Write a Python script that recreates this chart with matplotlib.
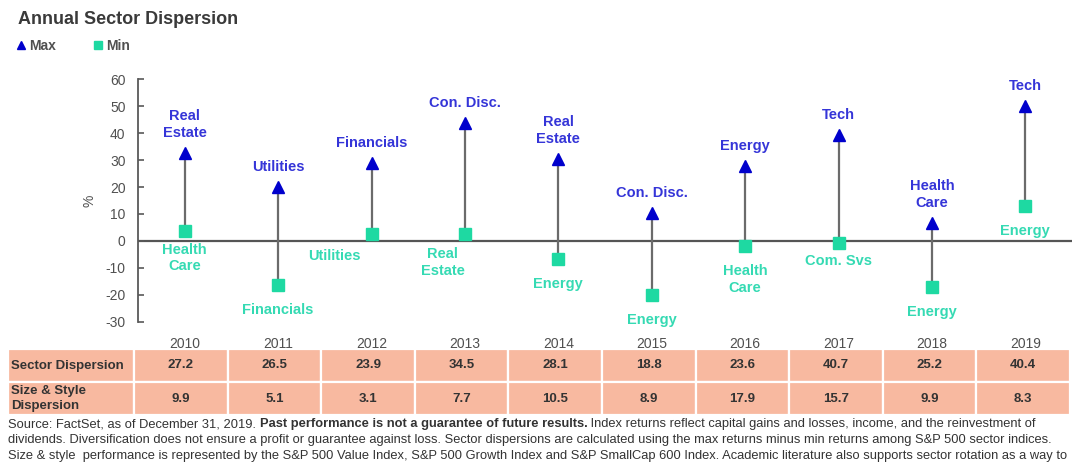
import numpy as np
import matplotlib
matplotlib.use('Agg')
import matplotlib.pyplot as plt
from matplotlib.patches import Rectangle
from matplotlib.lines import Line2D

plt.rcParams['font.family'] = ['Liberation Sans', 'DejaVu Sans']
plt.rcParams['axes.unicode_minus'] = False

years = ['2010', '2011', '2012', '2013', '2014', '2015', '2016', '2017', '2018', '2019']
max_vals = [32.5, 20.1, 28.9, 43.8, 30.4, 10.3, 27.9, 39.3, 6.6, 50.2]
min_vals = [3.5, -16.5, 2.5, 2.5, -6.8, -20.2, -1.9, -0.6, -17.1, 13.0]
max_sectors = ['Real\nEstate', 'Utilities', 'Financials', 'Con. Disc.', 'Real\nEstate',
               'Con. Disc.', 'Energy', 'Tech', 'Health\nCare', 'Tech']
min_sectors = ['Health\nCare', 'Financials', 'Utilities', 'Real\nEstate', 'Energy',
               'Energy', 'Health\nCare', 'Com. Svs', 'Energy', 'Energy']
sector_disp = [27.2, 26.5, 23.9, 34.5, 28.1, 18.8, 23.6, 40.7, 25.2, 40.4]
style_disp = [9.9, 5.1, 3.1, 7.7, 10.5, 8.9, 17.9, 15.7, 9.9, 8.3]
row_labels = ['Sector Dispersion', 'Size & Style\nDispersion']

# label nudges (points) for min labels that sit off the default spot
min_dx = {2: -27, 3: -16}
min_dy = {0: -8, 2: -11, 3: -9.5, 7: -8}

W, H = 1078, 465
BLUE = '#0000cc'
BLUE_TXT = '#3535d8'
GREEN = '#1ed9a2'
GREEN_TXT = '#35dab3'
GRAY = '#595959'
SALMON = '#f8b9a0'

fig = plt.figure(figsize=(W / 100, H / 100), dpi=100)
fig.patch.set_facecolor('white')

ax = fig.add_axes([138 / W, 1 - 321.7 / H, 934 / W, 242.4 / H])
x = np.arange(len(years))
ax.set_xlim(-0.5, len(years) - 0.5)
ax.set_ylim(-30, 60)
ax.set_yticks(range(-30, 61, 10))
for s in ['top', 'right', 'bottom']:
    ax.spines[s].set_visible(False)
ax.spines['left'].set_color(GRAY)
ax.spines['left'].set_linewidth(1.3)
ax.tick_params(axis='y', direction='in', length=4, width=1.2, color=GRAY,
               labelcolor='#505050', labelsize=10, pad=9)
ax.set_xticks(x)
ax.set_xticklabels(years)
ax.tick_params(axis='x', length=0, labelcolor='#505050', labelsize=10, pad=11)
ax.set_ylabel('%', color='#505050', fontsize=10, labelpad=6)
ax.axhline(0, color='#555555', lw=1.6, zorder=1)

ax.vlines(x, min_vals, max_vals, color='#6b6b6b', lw=1.6, zorder=2)
ax.plot(x, max_vals, '^', color=BLUE, ms=9, zorder=3, clip_on=False)
ax.plot(x, min_vals, 's', color=GREEN, ms=8, zorder=3, clip_on=False)

for i in range(len(years)):
    ax.annotate(max_sectors[i], (x[i], max_vals[i]), xytext=(0, 9.5),
                textcoords='offset points', ha='center', va='bottom',
                fontsize=10.5, fontweight='bold', color=BLUE_TXT,
                linespacing=1.25, annotation_clip=False)
    ax.annotate(min_sectors[i], (x[i], min_vals[i]),
                xytext=(min_dx.get(i, 0), min_dy.get(i, -13)),
                textcoords='offset points', ha='center', va='top',
                fontsize=10.5, fontweight='bold', color=GREEN_TXT,
                linespacing=1.25, annotation_clip=False)

# title and legend
fig.text(18 / W, 1 - 20 / H, 'Annual Sector Dispersion', fontsize=13,
         fontweight='bold', color='#3a3a3a', va='center')
handles = [Line2D([], [], marker='^', color=BLUE, ls='', ms=6),
           Line2D([], [], marker='s', color=GREEN, ls='', ms=6)]
leg = fig.legend(handles, ['Max', 'Min'], loc='center left',
                 bbox_to_anchor=(0 / W, 1 - 46 / H), ncol=2, frameon=False,
                 handletextpad=0.0, columnspacing=2.4, handlelength=1.2,
                 prop={'size': 10, 'weight': 'bold'})
for t in leg.get_texts():
    t.set_color('#505050')

# table
tx = fig.add_axes([8 / W, 1 - 415 / H, 1062 / W, 66 / H])
lab_w = 126 / 93.6
tx.set_xlim(-lab_w, len(years))
tx.set_ylim(0, 2)
tx.axis('off')
rows = [sector_disp, style_disp]
for r, vals in enumerate(rows):
    y0 = 1 - r
    tx.add_patch(Rectangle((-lab_w, y0), lab_w, 1, facecolor=SALMON,
                           edgecolor='white', lw=1.6))
    tx.text(-lab_w + 0.03, y0 + 0.5, row_labels[r], ha='left', va='center',
            fontsize=9.5, fontweight='bold', color='#333333', linespacing=1.25)
    for i, v in enumerate(vals):
        tx.add_patch(Rectangle((i, y0), 1, 1, facecolor=SALMON,
                               edgecolor='white', lw=1.6))
        tx.text(i + 0.5, y0 + 0.5, f'{v:.1f}', ha='center', va='center',
                fontsize=9.5, fontweight='bold', color='#333333')

# footnote
note = [
    [('Source: FactSet, as of December 31, 2019. ', 'normal'),
     ('Past performance is not a guarantee of future results.', 'bold'),
     (' Index returns reflect capital gains and losses, income, and the reinvestment of', 'normal')],
    [('dividends. Diversification does not ensure a profit or guarantee against loss. Sector dispersions are '
      'calculated using the max returns minus min returns among S&P 500 sector indices.', 'normal')],
    [('Size & style  performance is represented by the S&P 500 Value Index, S&P 500 Growth Index and '
      'S&P SmallCap 600 Index. Academic literature also supports sector rotation as a way to', 'normal')],
]
renderer = fig.canvas.get_renderer()
for k, line in enumerate(note):
    xp = 8
    yp = 1 - (424 + 16 * k) / H
    for txt, wt in line:
        t = fig.text(xp / W, yp, txt, fontsize=9.25, fontweight=wt, color='#333333',
                     va='center', ha='left')
        xp += t.get_window_extent(renderer).width

fig.savefig('out.png', dpi=100, facecolor='white')
